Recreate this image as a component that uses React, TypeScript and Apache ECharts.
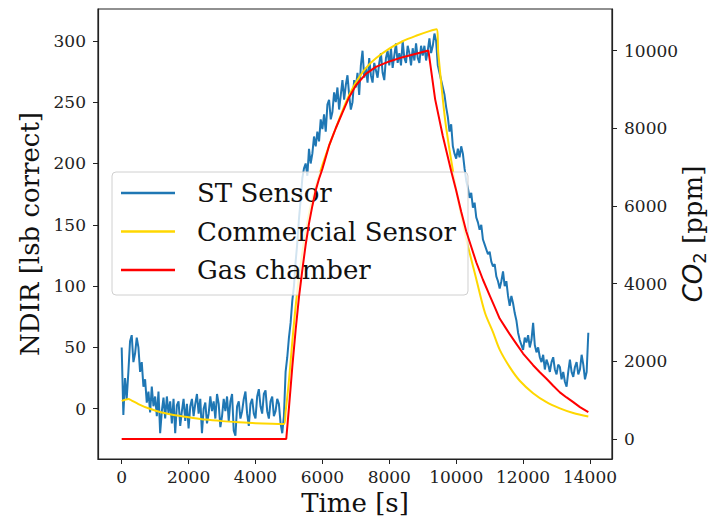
import React, { useEffect, useRef } from "react";
import * as echarts from "echarts";

const FONT = "DejaVu Serif";

const xTicks = [0, 2000, 4000, 6000, 8000, 10000, 12000, 14000];
const leftTicks = [0, 50, 100, 150, 200, 250, 300];
const rightTicks = [0, 2000, 4000, 6000, 8000, 10000];

// ST Sensor (NDIR, lsb correct), sampled every 50 s from t = 0
const stStep = 50;
const stValues = [
  50, -5, 25, 8, 30, 55, 60, 38, 45, 58,
  50, 30, 38, 18, 24, 5, 14, -3, 18, 2,
  10, -6, 14, -20, -2, 9, -8, 10, -4, 6,
  -12, 8, -20, 3, 6, -14, -2, 8, -10, 4,
  -16, 2, 8, -6, 4, 12, -4, 8, -20, 0,
  5, -12, -4, 10, -2, 6, -8, 12, 4, -15,
  -6, 8, -2, 10, -10, 6, 12, -18, -22, 2,
  6, -8, -2, 8, 14, -4, -14, 4, 8, -4,
  -8, 10, 16, 2, -4, 12, 15, -2, -8, 6,
  10, -6, -2, 8, 4, -12, -20, -6, 30, 42,
  58, 70, 88, 100, 120, 135, 155, 170, 188, 196,
  200, 190, 212, 200, 208, 222, 214, 226, 218, 236,
  228, 240, 226, 248, 252, 236, 242, 258, 250, 262,
  244, 256, 268, 252, 264, 272, 256, 244, 250, 268,
  262, 274, 256, 280, 292, 270, 278, 266, 286, 272,
  266, 282, 276, 270, 282, 290, 274, 268, 286, 292,
  280, 294, 278, 288, 298, 282, 290, 280, 300, 286,
  282, 296, 290, 280, 294, 284, 298, 286, 282, 296,
  288, 296, 284, 292, 302, 290, 296, 306, 300, 280,
  274, 268, 262, 256, 246, 238, 226, 232, 214, 208,
  204, 212, 205, 214, 208, 196, 186, 180, 172, 176,
  164, 168, 156, 152, 146, 150, 138, 134, 130, 126,
  128, 120, 116, 118, 108, 104, 98, 104, 112, 100,
  104, 92, 84, 92, 86, 78, 72, 62, 56, 52,
  48, 58, 54, 60, 50, 56, 70, 52, 46, 50,
  42, 38, 44, 32, 40, 36, 30, 38, 42, 32,
  28, 36, 34, 24, 30, 22, 18, 30, 40, 30,
  26, 34, 38, 28, 32, 44, 36, 24, 30, 62,
];

// Commercial Sensor (ppm)
const comTime = [
  0, 100, 200, 300, 500, 800, 1200, 1600, 2000, 2500, 3000, 3500, 4000, 4500, 4850,
  4900, 5000, 5100, 5230, 5400, 5600, 5800, 6000, 6200, 6400, 6600, 6800, 7000,
  7300, 7600, 8000, 8400, 8800, 9200, 9410, 9465, 9665, 9865, 10100, 10300, 10600,
  10860, 11100, 11300, 11600, 11900, 12300, 12700, 13100, 13500, 13950,
];
const comPpm = [
  980, 1010, 1030, 990, 900, 790, 680, 610, 560, 500, 460, 430, 405, 390, 385,
  700, 1500, 2500, 3650, 4800, 5800, 6500, 7050, 7550, 8000, 8450, 8850, 9180,
  9550, 9800, 10050, 10240, 10380, 10500, 10550, 9930, 8250, 7100, 5950, 5150, 4120,
  3250, 2750, 2300, 1850, 1500, 1180, 950, 790, 670, 580,
];

// Gas chamber (ppm)
const gasTime = [
  0, 4920, 5000, 5100, 5200, 5300, 5400, 5500, 5600, 5700, 5800, 5900, 6000, 6200,
  6400, 6600, 6800, 7000, 7300, 7600, 8000, 8400, 8800, 9170, 9370, 9600, 9850,
  10000, 10150, 10300, 10450, 10600, 10800, 11000, 11150, 11300, 11450, 11600,
  11800, 12000, 12150, 12300, 12500, 12700, 12900, 13100, 13300, 13500, 13700, 13950,
];
const gasPpm = [
  0, 0, 800, 1850, 2800, 3650, 4350, 5000, 5550, 6000, 6400, 6700, 6950, 7550,
  8000, 8400, 8800, 9100, 9400, 9580, 9720, 9830, 9920, 10000, 8750, 7800, 6900,
  6400, 5850, 5350, 4950, 4550, 4100, 3700, 3400, 3100, 2900, 2700,
  2450, 2200, 2050, 1900, 1720, 1550, 1370, 1200, 1070, 950, 820, 690,
];

export default function App() {
  const ref = useRef<HTMLDivElement>(null);
  useEffect(() => {
    const chart = echarts.init(ref.current as HTMLDivElement, null, { renderer: "svg" });
    const stData = stValues.map((v, i) => [i * stStep, v]);
    const comData = comTime.map((t, i) => [t, comPpm[i]]);
    const gasData = gasTime.map((t, i) => [t, gasPpm[i]]);
    const axisColor = "#222";
    const labelStyle = {
      fontFamily: FONT,
      fontSize: 17,
      color: "#222",
      formatter: (v: number) => String(v),
    };
    chart.setOption({
      animation: false,
      backgroundColor: "#fff",
      grid: {
        left: 98,
        right: 105,
        top: 9,
        bottom: 63,
        show: true,
        borderColor: axisColor,
        borderWidth: 1.2,
        backgroundColor: "transparent",
        containLabel: false,
        outerBoundsMode: "none",
      },
      legend: {
        orient: "vertical",
        left: 112,
        top: 172,
        icon: "rect",
        itemWidth: 54,
        itemHeight: 2.5,
        itemGap: 12.5,
        padding: [8, 12, 12, 9],
        backgroundColor: "rgba(255,255,255,0.8)",
        borderColor: "#d0d0d0",
        borderWidth: 1,
        borderRadius: 4,
        textStyle: {
          fontFamily: FONT,
          fontSize: 26,
          lineHeight: 26,
          color: "#111",
          padding: [0, 0, 0, 17],
        },
        data: ["ST Sensor", "Commercial Sensor", "Gas chamber"],
      },
      xAxis: {
        type: "value",
        min: -708,
        max: 14658,
        name: "Time [s]",
        nameLocation: "middle",
        nameGap: 30,
        nameTextStyle: { fontFamily: FONT, fontSize: 26, color: "#111" },
        axisLine: { show: true, onZero: false, lineStyle: { color: axisColor, width: 1.2 } },
        axisTick: { show: true, length: 5, customValues: xTicks, lineStyle: { color: axisColor } },
        axisLabel: { ...labelStyle, margin: 9, customValues: xTicks },
        splitLine: { show: false },
      },
      yAxis: [
        {
          type: "value",
          position: "left",
          min: -41,
          max: 326,
          name: "NDIR [lsb correct]",
          nameLocation: "middle",
          nameRotate: 90,
          nameGap: 52,
          nameTextStyle: { fontFamily: FONT, fontSize: 26, color: "#111" },
          axisLine: { show: true, onZero: false, lineStyle: { color: axisColor, width: 1.2 } },
          axisTick: { show: true, length: 5, customValues: leftTicks, lineStyle: { color: axisColor } },
          axisLabel: { ...labelStyle, margin: 12, customValues: leftTicks },
          splitLine: { show: false },
        },
        {
          type: "value",
          position: "right",
          min: -515,
          max: 11070,
          name: "{co|CO}{sub|2}{n| [ppm]}",
          nameLocation: "middle",
          nameRotate: 90,
          nameGap: 66,
          nameMoveOverlap: false,
          nameTextStyle: {
            fontSize: 26,
            color: "#111",
            rich: {
              co: { fontFamily: "DejaVu Sans", fontStyle: "italic", fontSize: 26, color: "#111" },
              sub: { fontFamily: "DejaVu Sans", fontSize: 18, color: "#111", padding: [12, 0, 0, 0] },
              n: { fontFamily: FONT, fontSize: 26, color: "#111" },
            },
          },
          axisLine: { show: true, onZero: false, lineStyle: { color: axisColor, width: 1.2 } },
          axisTick: { show: true, length: 5, customValues: rightTicks, lineStyle: { color: axisColor } },
          axisLabel: { ...labelStyle, margin: 12, customValues: rightTicks },
          splitLine: { show: false },
        },
      ],
      series: [
        {
          name: "ST Sensor",
          type: "line",
          yAxisIndex: 0,
          data: stData,
          symbol: "none",
          lineStyle: { color: "#1f77b4", width: 2 },
          itemStyle: { color: "#1f77b4" },
          z: 2,
        },
        {
          name: "Commercial Sensor",
          type: "line",
          yAxisIndex: 1,
          data: comData,
          symbol: "none",
          smooth: 0.3,
          lineStyle: { color: "#ffd700", width: 2 },
          itemStyle: { color: "#ffd700" },
          z: 3,
        },
        {
          name: "Gas chamber",
          type: "line",
          yAxisIndex: 1,
          data: gasData,
          symbol: "none",
          lineStyle: { color: "#ff0000", width: 2 },
          itemStyle: { color: "#ff0000" },
          z: 4,
        },
      ],
    });
    return () => chart.dispose();
  }, []);
  return (
    <div
      ref={ref}
      style={{ position: "fixed", left: 0, top: 0, width: 717, height: 522, background: "#fff" }}
    />
  );
}
